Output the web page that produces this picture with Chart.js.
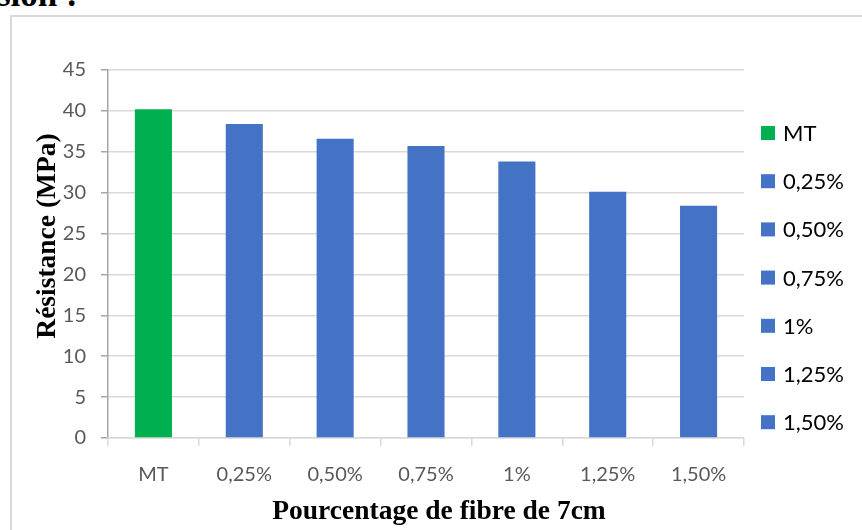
<!DOCTYPE html>
<html lang="fr">
<head>
<meta charset="utf-8">
<title>Résistance à la compression</title>
<script src="https://cdn.jsdelivr.net/npm/chart.js@4/dist/chart.umd.min.js"></script>
<style>
  html, body { margin: 0; padding: 0; background: #ffffff; }
  body { width: 862px; height: 530px; position: relative; overflow: hidden; }
  #heading {
    position: absolute; left: -3px; top: -25px;
    font: bold 35px "Liberation Serif", "Times New Roman", serif;
    color: #000; white-space: nowrap;
  }
  #frame {
    position: absolute; left: 10px; top: 15px; width: 860px; height: 525px;
    border: 2px solid #d9d9d9; box-sizing: border-box;
  }
  #wrap { position: absolute; left: 10px; top: 15px; width: 852px; height: 515px; }
</style>
</head>
<body>
<div id="heading">sion :</div>
<div id="frame"></div>
<div id="wrap"><canvas id="chart" width="852" height="515"></canvas></div>
<script>
// Fibre content categories and compressive strength (MPa)
const categories = ['MT', '0,25%', '0,50%', '0,75%', '1%', '1,25%', '1,50%'];
const resistance = [40.2, 38.4, 36.6, 35.7, 33.8, 30.1, 28.4];
const barColors = ['#00b050', '#4472c4', '#4472c4', '#4472c4', '#4472c4', '#4472c4', '#4472c4'];
const yTicks = [0, 5, 10, 15, 20, 25, 30, 35, 40, 45];
const yTitle = 'Résistance (MPa)';
const xTitle = 'Pourcentage de fibre de 7cm';

const labelFont = '"Lato", "Liberation Sans", sans-serif';
const serifFont = '"Liberation Serif", "Times New Roman", serif';

// Legend listing each category with its bar colour, drawn to the right of the plot
const categoryLegend = {
  id: 'categoryLegend',
  afterDraw(chart) {
    const ctx = chart.ctx;
    const area = chart.chartArea;
    const ds = chart.data.datasets[0];
    const step = 48.2;
    const firstY = 118;
    ctx.save();
    ctx.font = '22px ' + labelFont;
    ctx.textBaseline = 'middle';
    ctx.textAlign = 'left';
    chart.data.labels.forEach((lab, i) => {
      const y = firstY + i * step;
      const x = area.right + 17;
      ctx.fillStyle = ds.backgroundColor[i];
      ctx.fillRect(x, y - 7, 14, 14);
      ctx.fillStyle = '#000000';
      ctx.fillText(lab, x + 22, y + 1);
    });
    ctx.restore();
  }
};

// Axis titles, placed slightly off-centre like the hand-positioned originals
const axisTitles = {
  id: 'axisTitles',
  afterDraw(chart) {
    const ctx = chart.ctx;
    const area = chart.chartArea;
    ctx.save();
    ctx.font = 'bold 27.5px ' + serifFont;
    ctx.fillStyle = '#000000';
    ctx.textAlign = 'center';
    ctx.textBaseline = 'middle';
    // vertical title
    ctx.save();
    ctx.translate(38, (area.top + area.bottom) / 2 - 18);
    ctx.rotate(-Math.PI / 2);
    ctx.fillText(yTitle, 0, 0);
    ctx.restore();
    // horizontal title
    ctx.fillText(xTitle, (area.left + area.right) / 2 + 13, 497);
    ctx.restore();
  }
};

new Chart(document.getElementById('chart'), {
  type: 'bar',
  data: {
    labels: categories,
    datasets: [{
      label: 'Résistance',
      data: resistance,
      backgroundColor: barColors,
      borderWidth: 0,
      categoryPercentage: 1.0,
      barPercentage: 0.408
    }]
  },
  options: {
    responsive: false,
    animation: false,
    devicePixelRatio: 1,
    layout: { padding: { left: 16, right: 118, top: 55, bottom: 0 } },
    plugins: {
      legend: { display: false },
      tooltip: { enabled: false }
    },
    scales: {
      y: {
        min: 0,
        max: 45,
        afterBuildTicks(scale) { scale.ticks = yTicks.map(v => ({ value: v })); },
        afterFit(scale) { scale.width = 82; },
        ticks: {
          font: { family: labelFont, size: 20 },
          color: '#595959',
          padding: 15
        },
        grid: {
          color: '#d9d9d9',
          lineWidth: 1.5,
          tickColor: '#a6a6a6',
          tickLength: 7
        },
        border: { color: '#a6a6a6', width: 1.5 },
        title: { display: false }
      },
      x: {
        afterFit(scale) { scale.height = 92; },
        ticks: {
          font: { family: labelFont, size: 20 },
          color: '#595959',
          padding: 17
        },
        grid: {
          offset: true,
          drawOnChartArea: false,
          color: '#d9d9d9',
          tickColor: '#d9d9d9',
          tickLength: 8,
          lineWidth: 1.5
        },
        border: { color: '#d9d9d9', width: 1.5 },
        title: { display: false }
      }
    }
  },
  plugins: [categoryLegend, axisTitles]
});
</script>
</body>
</html>
